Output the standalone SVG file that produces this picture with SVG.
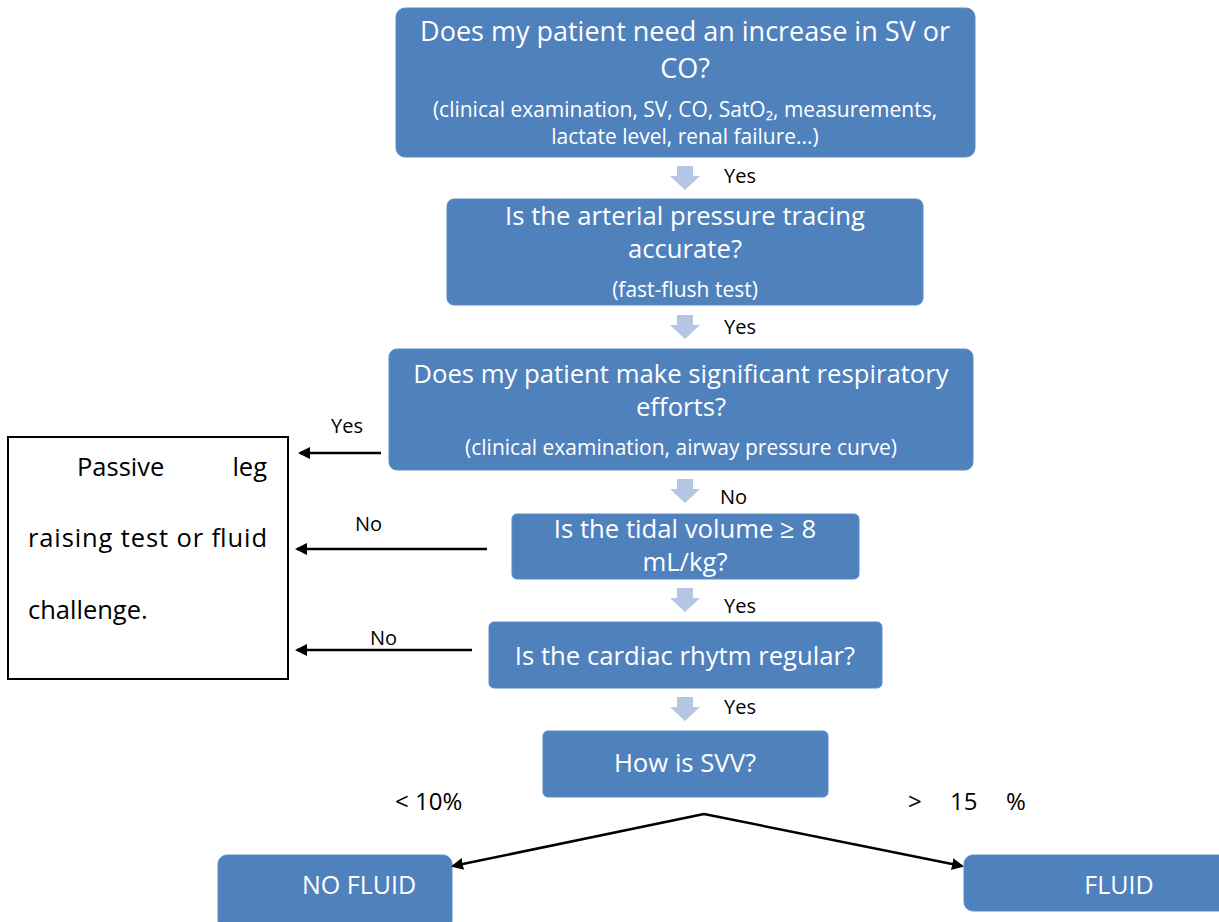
<svg xmlns="http://www.w3.org/2000/svg" width="1219" height="922" viewBox="0 0 1219 922">
<style>
.box{fill:#4f81bd;stroke:#5b8cc5;stroke-width:1}
.t{font-family:"Open Sans","Liberation Sans",Arial,sans-serif;fill:#fff;text-anchor:middle}
.big{font-size:25.7px}
.sm{font-size:21px}
.lbl{font-family:"Open Sans","Liberation Sans",Arial,sans-serif;font-size:20px;fill:#000}
.lb{font-size:25.5px}
.blk{fill:#b4c6e2}
.ln{stroke:#000;stroke-width:2.5;fill:none;marker-end:url(#ah)}
</style>
<defs>
<marker id="ah" markerWidth="12" markerHeight="12" refX="10" refY="6" orient="auto" markerUnits="userSpaceOnUse" viewBox="0 0 12 12">
<path d="M0,0 L12,6 L0,12 z" fill="#000"/>
</marker>
</defs>
<rect width="1219" height="922" fill="#fff"/>
<g id="n1"><rect class="box" x="396" y="8" width="579" height="149" rx="9"/>
<text class="t big" style="font-size:27px" x="685" y="41">Does my patient need an increase in SV or</text>
<text class="t big" style="font-size:27px" x="685" y="78">CO?</text>
<text class="t sm" x="685" y="117">(clinical examination, SV, CO, SatO₂, measurements,</text>
<text class="t sm" x="685" y="144">lactate level, renal failure...)</text></g>
<g id="n2"><rect class="box" x="447" y="199" width="476" height="106" rx="7"/>
<text class="t big" x="685" y="225">Is the arterial pressure tracing</text>
<text class="t big" x="685" y="258">accurate?</text>
<text class="t sm" x="685" y="297">(fast-flush test)</text></g>
<g id="n3"><rect class="box" x="389" y="349" width="584" height="121" rx="8"/>
<text class="t big" x="681" y="383">Does my patient make significant respiratory</text>
<text class="t big" x="681" y="416">efforts?</text>
<text class="t sm" x="681" y="455">(clinical examination, airway pressure curve)</text></g>
<g id="n4"><rect class="box" x="512" y="514" width="347" height="65" rx="5"/>
<text class="t big" x="685" y="538">Is the tidal volume ≥ 8</text>
<text class="t big" x="685" y="571">mL/kg?</text></g>
<g id="n5"><rect class="box" x="489" y="622" width="393" height="66" rx="5"/>
<text class="t big" x="685" y="665">Is the cardiac rhytm regular?</text></g>
<g id="n6"><rect class="box" x="543" y="731" width="285" height="66" rx="5"/>
<text class="t big" x="685" y="772">How is SVV?</text></g>
<g id="n7"><rect class="box" x="218" y="855" width="234" height="75" rx="9"/>
<text class="t big" x="359" y="894" style="font-size:25px">NO FLUID</text></g>
<g id="n8"><rect class="box" x="964" y="855" width="270" height="56" rx="9"/>
<text class="t big" x="1119" y="894" style="font-size:25px">FLUID</text></g>
<g id="n9"><rect x="8" y="437" width="280" height="242" fill="#fff" stroke="#000" stroke-width="2"/>
<text class="lbl lb" x="77" y="476">Passive</text>
<text class="lbl lb" x="267" y="476" text-anchor="end">leg</text>
<text class="lbl lb" x="28" y="547" textLength="239" lengthAdjust="spacing">raising test or fluid</text>
<text class="lbl lb" x="28" y="619">challenge.</text></g>
<g id="connectors">
<path class="blk" d="M677,166 H693 V176 H700 L685,190 L670,176 H677 Z"/>
<path class="blk" d="M677,315 H693 V325 H700 L685,339 L670,325 H677 Z"/>
<path class="blk" d="M677,479 H693 V489 H700 L685,503 L670,489 H677 Z"/>
<path class="blk" d="M677,588 H693 V598 H700 L685,612 L670,598 H677 Z"/>
<path class="blk" d="M677,697 H693 V707 H700 L685,721 L670,707 H677 Z"/>
<line class="ln" x1="381" y1="453" x2="300" y2="453"/>
<line class="ln" x1="487" y1="549" x2="297" y2="549"/>
<line class="ln" x1="472" y1="650" x2="297" y2="650"/>
<line class="ln" x1="704" y1="814" x2="453" y2="866"/>
<line class="ln" x1="704" y1="814" x2="962" y2="866"/>
</g>
<g id="labels">
<text class="lbl" x="724" y="183">Yes</text>
<text class="lbl" x="724" y="334">Yes</text>
<text class="lbl" x="720" y="504">No</text>
<text class="lbl" x="724" y="613">Yes</text>
<text class="lbl" x="724" y="714">Yes</text>
<text class="lbl" x="331" y="433">Yes</text>
<text class="lbl" x="355" y="531">No</text>
<text class="lbl" x="370" y="645">No</text>
<text class="lbl" style="font-size:24px" x="395" y="810">&lt; 10%</text>
<text class="lbl" style="font-size:24px" x="908" y="810">&gt;</text>
<text class="lbl" style="font-size:24px" x="950" y="810">15</text>
<text class="lbl" style="font-size:24px" x="1006" y="810">%</text>
</g>
</svg>
